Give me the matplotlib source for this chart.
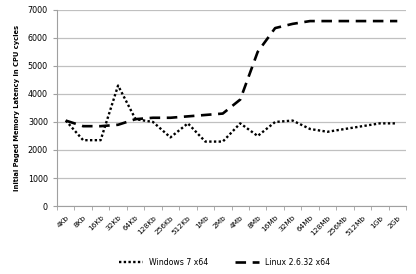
import numpy as np
import matplotlib
matplotlib.use("Agg")
import matplotlib.pyplot as plt

# === DATA ===
sizes = ["4Kb", "8Kb", "16Kb", "32Kb", "64Kb", "128Kb", "256Kb", "512Kb", "1Mb", "2Mb",
         "4Mb", "8Mb", "16Mb", "32Mb", "64Mb", "128Mb", "256Mb", "512Mb", "1Gb", "2Gb"]
windows = [3050, 2350, 2350, 4300, 3100, 3000, 2450, 2950, 2300, 2300,
           2950, 2500, 3000, 3050, 2750, 2650, 2750, 2850, 2950, 2950]
linux = [3050, 2850, 2850, 2900, 3100, 3150, 3150, 3200, 3250, 3300,
         3800, 5500, 6350, 6500, 6600, 6600, 6600, 6600, 6600, 6600]

plt.rcParams["font.family"] = ["DejaVu Sans"]

fig = plt.figure(figsize=(4.16, 2.74), dpi=100)
ax = fig.add_axes([0.137, 0.248, 0.839, 0.716])

x = np.arange(len(sizes))
ax.plot(x, windows, color="black", lw=1.7, linestyle=(0, (1, 1)), label="Windows 7 x64")
ax.plot(x, linux, color="black", lw=1.9, linestyle=(0, (4, 2.5)), label="Linux 2.6.32 x64")

ax.set_xlim(-0.5, len(sizes) - 0.5)
ax.set_ylim(0, 7000)
ax.set_yticks(np.arange(0, 7001, 1000))
ax.yaxis.grid(True, color="#c0c0c0", lw=0.9)
ax.set_axisbelow(True)

ax.set_xticks(x)
ax.set_xticklabels(sizes, rotation=45, ha="right", rotation_mode="anchor", fontsize=5.3)
ax.set_xticks(np.arange(-0.5, len(sizes)), minor=True)
ax.tick_params(axis="x", which="major", length=0, pad=6)
ax.tick_params(axis="x", which="minor", length=3, color="#a0a0a0")
ax.tick_params(axis="y", length=3, color="#a0a0a0", labelsize=5.8)

for s in ["top", "right"]:
    ax.spines[s].set_visible(False)
for s in ["left", "bottom"]:
    ax.spines[s].set_color("#a0a0a0")

ax.set_ylabel("Initial Paged Memory Latency in CPU cycles", fontsize=4.9, fontweight="bold",
              labelpad=6)

fig.legend(loc="lower center", bbox_to_anchor=(0.54, 0.0), ncol=2, frameon=False,
           fontsize=5.6, handlelength=3, columnspacing=3.5)

fig.savefig("out.png", dpi=100)
